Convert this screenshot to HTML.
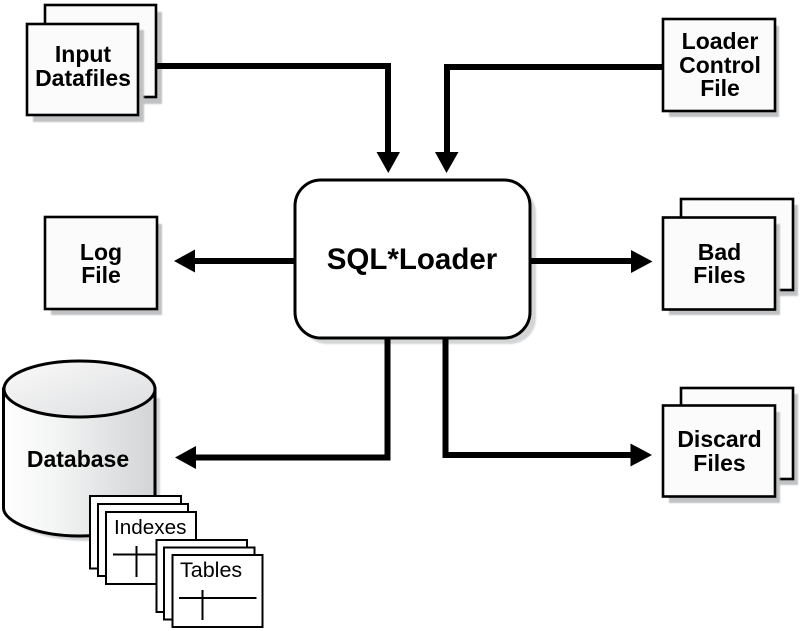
<!DOCTYPE html>
<html><head><meta charset="utf-8">
<style>
html,body{margin:0;padding:0;background:#fff;width:800px;height:631px;overflow:hidden}
svg{display:block}
text{font-family:"Liberation Sans",sans-serif;fill:#000}
.b{font-weight:bold;font-size:23px;text-anchor:middle}
.s{fill:#bfc1c3;filter:url(#bl)}
.f{fill:#fbfbfb;stroke:#000;stroke-width:2.6}
.t{fill:#fff;stroke:#000;stroke-width:2}
.l{fill:none;stroke:#000;stroke-width:6}
</style></head><body>
<svg width="800" height="631" viewBox="0 0 800 631" xmlns="http://www.w3.org/2000/svg">
<defs>
<filter id="bl" x="-10%" y="-10%" width="120%" height="120%"><feGaussianBlur stdDeviation="0.8"/></filter>
<linearGradient id="cyl" x1="0" x2="1" y1="0" y2="0">
<stop offset="0" stop-color="#ffffff"/><stop offset="0.35" stop-color="#f3f4f4"/><stop offset="1" stop-color="#d2d4d6"/>
</linearGradient>
<linearGradient id="cyltop" x1="0" x2="1" y1="0" y2="1">
<stop offset="0" stop-color="#fafafa"/><stop offset="1" stop-color="#dcdddf"/>
</linearGradient>
</defs>

<!-- Input Datafiles -->
<rect class="s" x="51" y="12" width="111" height="92"/>
<rect class="f" x="45" y="5" width="111" height="92"/>
<rect class="s" x="33" y="30" width="111" height="92"/>
<rect class="f" x="27" y="24" width="111" height="91"/>
<text class="b" x="83" y="62">Input</text>
<text class="b" x="83" y="86">Datafiles</text>

<!-- Loader Control File -->
<rect class="s" x="669" y="26" width="110" height="91"/>
<rect class="f" x="663" y="19" width="112" height="92"/>
<text class="b" x="720" y="49">Loader</text>
<text class="b" x="720" y="73">Control</text>
<text class="b" x="720" y="96">File</text>

<!-- Log File -->
<rect class="s" x="51" y="224" width="111" height="91"/>
<rect class="f" x="45" y="217" width="112" height="92"/>
<text class="b" x="101" y="260">Log</text>
<text class="b" x="101" y="283">File</text>

<!-- Bad Files -->
<rect class="s" x="687" y="205" width="111" height="91"/>
<rect class="f" x="681" y="199" width="112" height="91"/>
<rect class="s" x="669" y="224" width="111" height="91"/>
<rect class="f" x="663" y="217.500" width="112" height="92"/>
<text class="b" x="719.500" y="260">Bad</text>
<text class="b" x="719.500" y="283">Files</text>

<!-- Discard Files -->
<rect class="s" x="687" y="394" width="111" height="91"/>
<rect class="f" x="681" y="388" width="112" height="91"/>
<rect class="s" x="669" y="412" width="111" height="91"/>
<rect class="f" x="663" y="405.500" width="112" height="91"/>
<text class="b" x="719.500" y="447">Discard</text>
<text class="b" x="719.500" y="471">Files</text>

<!-- SQL*Loader -->
<rect x="301" y="187" width="235" height="157" rx="26" fill="#d4d5d6" filter="url(#bl)"/>
<rect x="295" y="180" width="235" height="158" rx="26" fill="#fff" stroke="#000" stroke-width="3"/>
<text x="412" y="269" text-anchor="middle" style="font-size:29.500px;font-weight:bold">SQL*Loader</text>

<!-- Database -->
<path d="M10 398V514C10 526 40 540 85 541C130 540 160 526 160 514V398Z" fill="#d0d2d4" filter="url(#bl)"/>
<path d="M3.500 389V508C3.500 522 38 536 79.500 536C121 536 155 522 155 508V389Z" fill="url(#cyl)" stroke="#000" stroke-width="3"/>
<ellipse cx="79.500" cy="389" rx="75.500" ry="28" fill="url(#cyltop)" stroke="#000" stroke-width="3"/>
<text class="b" x="78" y="467">Database</text>

<!-- connectors -->
<path class="l" d="M156 66H388V154"/>
<path d="M376.500 152H400L388.300 173Z"/>
<path class="l" d="M664 67H447V154"/>
<path d="M435 152H458.500L446.500 173Z"/>
<path class="l" d="M295 261H193"/>
<path d="M174 261L195 249.500V272.500Z"/>
<path class="l" d="M530 261H634"/>
<path d="M652.500 261.500L631 250V273Z"/>
<path class="l" d="M387.500 338V457.500H193"/>
<path d="M175 457.500L196 446V469Z"/>
<path class="l" d="M445.500 338V455H633"/>
<path d="M652 455L630.500 443.500V466.500Z"/>

<!-- Indexes -->
<rect class="t" x="90" y="496" width="91" height="72.500"/>
<rect class="t" x="98" y="504" width="90" height="72"/>
<rect class="t" x="106" y="512" width="90" height="72"/>
<text x="114" y="534" style="font-size:20.700px">Indexes</text>
<path d="M113 554.500H190M136.500 546V577" stroke="#000" stroke-width="2" fill="none"/>

<!-- Tables -->
<rect class="t" x="156.500" y="540" width="90.500" height="72"/>
<rect class="t" x="164" y="547.500" width="90.500" height="72"/>
<rect class="t" x="172.500" y="555" width="90" height="72"/>
<text x="180" y="577" style="font-size:21.500px">Tables</text>
<path d="M179 598H256.500M202.500 590V620" stroke="#000" stroke-width="2" fill="none"/>
</svg>
</body></html>
